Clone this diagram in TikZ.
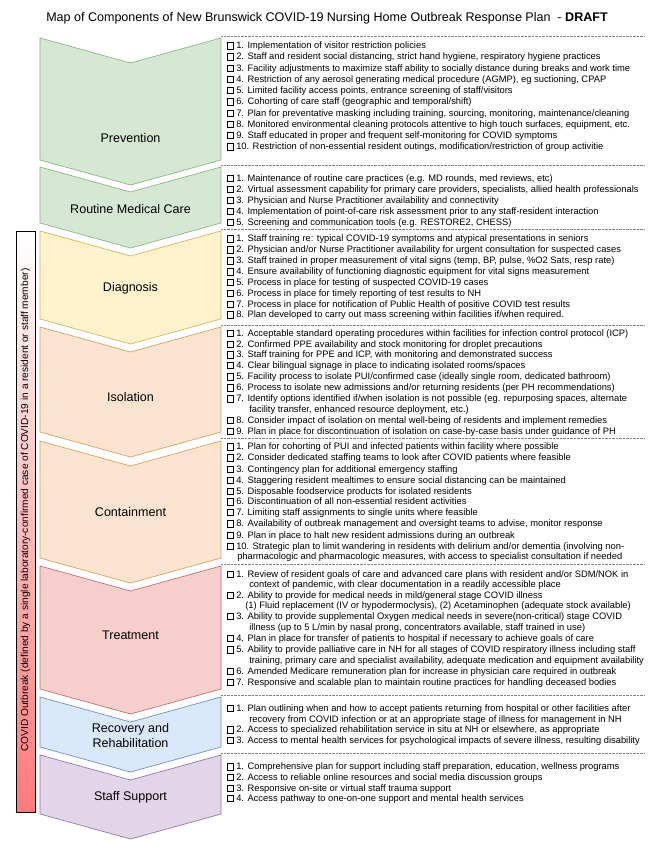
\documentclass[tikz,border=0pt]{standalone}
\usepackage{fontspec}
\setmainfont{Liberation Sans}
\definecolor{gfill}{RGB}{213,232,212}\definecolor{gline}{RGB}{140,180,130}
\definecolor{yfill}{RGB}{255,242,204}\definecolor{yline}{RGB}{214,182,86}
\definecolor{ofill}{RGB}{252,228,208}\definecolor{oline}{RGB}{215,160,90}
\definecolor{rfill}{RGB}{246,206,204}\definecolor{rline}{RGB}{190,110,105}
\definecolor{bfill}{RGB}{218,232,252}\definecolor{bline}{RGB}{108,142,191}
\definecolor{pfill}{RGB}{225,213,231}\definecolor{pline}{RGB}{150,115,166}
\definecolor{barred}{RGB}{255,122,122}
\newcounter{ln}
\newcommand\chk[2]{\stepcounter{ln}%
  \node[cbox] (b\theln) at (230.5,#1) {};%
  \node[itm] (t\theln) at (236,#1+3) {#2};}
\newcommand\cnt[3]{\stepcounter{ln}\node[itm] (t\theln) at (#1,#2+3) {#3};}
\newcommand\chev[4]{\filldraw[chevron,fill=#3,draw=#4] (40,#1) -- (130.5,#1+25) -- (221,#1) -- (221,#2) -- (130.5,#2+25) -- (40,#2) -- cycle;}
\tikzset{
  itm/.style={anchor=base west,inner sep=0pt,font=\fontsize{7.02pt}{8pt}\selectfont},
  cbox/.style={draw=black,line width=0.45pt,minimum size=4.8pt,inner sep=0pt},
  chevron/.style={line width=0.5pt,line join=miter},
  lab/.style={inner sep=0pt,align=center,font=\fontsize{9.4pt}{11.3pt}\selectfont},
  sep/.style={draw=gray,line width=0.45pt,dash pattern=on 0.45pt off 0.6pt},
}
\begin{document}
\begin{tikzpicture}[x=0.75pt,y=-0.75pt]
\useasboundingbox (0,0) rectangle (649,841);
\fill[white] (0,0) rectangle (649,841);
% title
\node[anchor=west,inner sep=0pt,font=\fontsize{9.4pt}{11pt}\selectfont] (title) at (46,18)
  {Map of Components of New Brunswick COVID-19 Nursing Home Outbreak Response Plan\ \ - \textbf{DRAFT}};
% separators
\foreach \yy in {36,165,229,325,438,564,695,753} {\draw[sep] (221,\yy) -- (645,\yy);}
% chevrons
\chev{38}{160}{gfill}{gline}
\chev{167}{223}{gfill}{gline}
\chev{231}{319}{yfill}{yline}
\chev{327}{432}{ofill}{oline}
\chev{441}{558}{ofill}{oline}
\chev{566}{689}{rfill}{rline}
\chev{697}{747}{bfill}{bline}
\chev{755}{814}{pfill}{pline}
\node[lab] (lprev) at (130.5,138) {Prevention};
\node[lab] (lrout) at (130.5,209) {Routine Medical Care};
\node[lab] (ldiag) at (130.5,288) {Diagnosis};
\node[lab] (liso) at (130.5,397) {Isolation};
\node[lab] (lcont) at (130.5,512) {Containment};
\node[lab] (ltreat) at (130.5,635) {Treatment};
\node[lab] (lrec) at (130.5,735.5) {Recovery and\\Rehabilitation};
\node[lab] (lstaff) at (130.5,797) {Staff Support};
% left bar
\node[draw=black,line width=0.75pt,top color=white,bottom color=barred,minimum width=14.25pt,minimum height=435pt,inner sep=0pt] (bar) at (25.5,522) {};
\node[rotate=90,inner sep=0pt,font=\fontsize{7.6pt}{9pt}\selectfont] (bartext) at (25.5,510)
  {COVID Outbreak (defined by a single laboratory-confirmed case of COVID-19 in a resident or staff member)};
% Prevention
\chk{45.7}{1. Implementation of visitor restriction policies}
\chk{57.0}{2. Staff and resident social distancing, strict hand hygiene, respiratory hygiene practices}
\chk{68.3}{3. Facility adjustments to maximize staff ability to socially distance during breaks and work time}
\chk{79.4}{4. Restriction of any aerosol generating medical procedure (AGMP), eg suctioning, CPAP}
\chk{90.5}{5. Limited facility access points, entrance screening of staff/visitors}
\chk{101.8}{6. Cohorting of care staff (geographic and temporal/shift)}
\chk{113.1}{7. Plan for preventative masking including training, sourcing, monitoring, maintenance/cleaning}
\chk{124.3}{8. Monitored environmental cleaning protocols attentive to high touch surfaces, equipment, etc.}
\chk{135.5}{9. Staff educated in proper and frequent self-monitoring for COVID symptoms}
\chk{146.7}{10. Restriction of non-essential resident outings, modification/restriction of group activitie}
% Routine
\chk{178.3}{1. Maintenance of routine care practices (e.g. MD rounds, med reviews, etc)}
\chk{189.3}{2. Virtual assessment capability for primary care providers, specialists, allied health professionals}
\chk{200.3}{3. Physician and Nurse Practitioner availability and connectivity}
\chk{211.5}{4. Implementation of point-of-care risk assessment prior to any staff-resident interaction}
\chk{222.3}{5. Screening and communication tools (e.g. RESTORE2, CHESS)}
% Diagnosis
\chk{238.7}{1. Staff training re: typical COVID-19 symptoms and atypical presentations in seniors}
\chk{249.7}{2. Physician and/or Nurse Practitioner availability for urgent consultation for suspected cases}
\chk{260.7}{3. Staff trained in proper measurement of vital signs (temp, BP, pulse, \%O2 Sats, resp rate)}
\chk{271.7}{4. Ensure availability of functioning diagnostic equipment for vital signs measurement}
\chk{282.3}{5. Process in place for testing of suspected COVID-19 cases}
\chk{293.3}{6. Process in place for timely reporting of test results to NH}
\chk{304.0}{7. Process in place for notification of Public Health of positive COVID test results}
\chk{314.7}{8. Plan developed to carry out mass screening within facilities if/when required.}
% Isolation
\chk{333.3}{1. Acceptable standard operating procedures within facilities for infection control protocol (ICP)}
\chk{344.0}{2. Confirmed PPE availability and stock monitoring for droplet precautions}
\chk{354.7}{3. Staff training for PPE and ICP, with monitoring and demonstrated success}
\chk{365.3}{4. Clear bilingual signage in place to indicating isolated rooms/spaces}
\chk{376.7}{5. Facility process to isolate PUI/confirmed case (ideally single room, dedicated bathroom)}
\chk{387.8}{6. Process to isolate new admissions and/or returning residents (per PH recommendations)}
\chk{398.7}{7. Identify options identified if/when isolation is not possible (eg. repurposing spaces, alternate}
\cnt{249}{409.3}{facility transfer, enhanced resource deployment, etc.)}
\chk{420.0}{8. Consider impact of isolation on mental well-being of residents and implement remedies}
\chk{431.0}{9. Plan in place for discontinuation of isolation on case-by-case basis under guidance of PH}
% Containment
\chk{446.7}{1. Plan for cohorting of PUI and infected patients within facility where possible}
\chk{457.7}{2. Consider dedicated staffing teams to look after COVID patients where feasible}
\chk{469.0}{3. Contingency plan for additional emergency staffing}
\chk{480.0}{4. Staggering resident mealtimes to ensure social distancing can be maintained}
\chk{491.0}{5. Disposable foodservice products for isolated residents}
\chk{501.7}{6. Discontinuation of all non-essential resident activities}
\chk{512.3}{7. Limiting staff assignments to single units where feasible}
\chk{523.7}{8. Availability of outbreak management and oversight teams to advise, monitor response}
\chk{535.0}{9. Plan in place to halt new resident admissions during an outbreak}
\chk{546.0}{10. Strategic plan to limit wandering in residents with delirium and/or dementia (involving non-}
\cnt{237}{556.3}{pharmacologic and pharmacologic measures, with access to specialist consultation if needed}
% Treatment
\chk{574.3}{1. Review of resident goals of care and advanced care plans with resident and/or SDM/NOK in}
\cnt{249}{584.7}{context of pandemic, with clear documentation in a readily accessible place}
\chk{595.3}{2. Ability to provide for medical needs in mild/general stage COVID illness}
\cnt{245}{605.7}{(1) Fluid replacement (IV or hypodermoclysis), (2) Acetaminophen (adequate stock available)}
\chk{616.3}{3. Ability to provide supplemental Oxygen medical needs in severe(non-critical) stage COVID}
\cnt{249}{627.0}{illness (up to 5 L/min by nasal prong, concentrators available, staff trained in use)}
\chk{638.5}{4. Plan in place for transfer of patients to hospital if necessary to achieve goals of care}
\chk{649.7}{5. Ability to provide palliative care in NH for all stages of COVID respiratory illness including staff}
\cnt{249}{660.3}{training, primary care and specialist availability, adequate medication and equipment availability}
\chk{671.3}{6. Amended Medicare remuneration plan for increase in physician care required in outbreak}
\chk{682.0}{7. Responsive and scalable plan to maintain routine practices for handling deceased bodies}
% Recovery
\chk{708.3}{1. Plan outlining when and how to accept patients returning from hospital or other facilities after}
\cnt{249}{719.0}{recovery from COVID infection or at an appropriate stage of illness for management in NH}
\chk{729.7}{2. Access to specialized rehabilitation service in situ at NH or elsewhere, as appropriate}
\chk{740.0}{3. Access to mental health services for psychological impacts of severe illness, resulting disability}
% Staff support
\chk{766.7}{1. Comprehensive plan for support including staff preparation, education, wellness programs}
\chk{777.3}{2. Access to reliable online resources and social media discussion groups}
\chk{788.0}{3. Responsive on-site or virtual staff trauma support}
\chk{798.3}{4. Access pathway to one-on-one support and mental health services}
\end{tikzpicture}
\end{document}
